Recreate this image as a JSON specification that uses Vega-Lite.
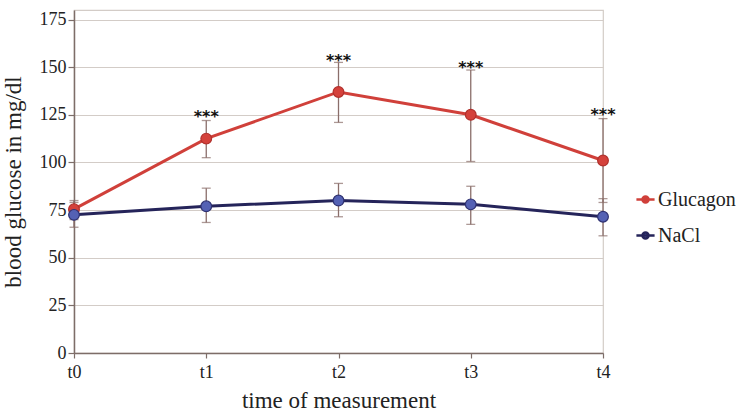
{
  "$schema": "https://vega.github.io/schema/vega-lite/v6.json",
  "width": 529,
  "height": 343,
  "autosize": {"type": "none"},
  "padding": {"left": 74, "top": 10, "right": 139, "bottom": 62},
  "background": "white",
  "config": {
    "font": "'Liberation Serif', 'Times New Roman', 'DejaVu Serif', serif",
    "view": {"stroke": "#d3ccc7", "strokeWidth": 1.2},
    "axis": {"labelFont": "'Liberation Serif', 'Times New Roman', 'DejaVu Serif', serif", "titleFont": "'Liberation Serif', 'Times New Roman', 'DejaVu Serif', serif", "labelColor": "#222", "titleColor": "#222", "titleFontWeight": "normal", "domainColor": "#7d6d68", "tickColor": "#7d6d68", "domainWidth": 1.5, "tickWidth": 1.2, "gridColor": "#d3ccc7", "gridWidth": 1.2},
    "legend": {"labelFont": "'Liberation Serif', 'Times New Roman', 'DejaVu Serif', serif"}
  },
  "datasets": {
    "series": [
      {"time": "t0", "group": "Glucagon", "mean": 75.5, "lo": 70, "hi": 80},
      {"time": "t1", "group": "Glucagon", "mean": 112.5, "lo": 102.5, "hi": 122},
      {"time": "t2", "group": "Glucagon", "mean": 137, "lo": 121, "hi": 152.5},
      {"time": "t3", "group": "Glucagon", "mean": 125, "lo": 100.5, "hi": 148.5},
      {"time": "t4", "group": "Glucagon", "mean": 101, "lo": 79, "hi": 123},
      {"time": "t0", "group": "NaCl", "mean": 72.5, "lo": 66, "hi": 79},
      {"time": "t1", "group": "NaCl", "mean": 77, "lo": 68.5, "hi": 86.5},
      {"time": "t2", "group": "NaCl", "mean": 80, "lo": 71.5, "hi": 89},
      {"time": "t3", "group": "NaCl", "mean": 78, "lo": 67.5, "hi": 87.5},
      {"time": "t4", "group": "NaCl", "mean": 71.5, "lo": 61.5, "hi": 81}
    ],
    "stars": [
      {"time": "t1", "y": 126.5, "label": "***"},
      {"time": "t2", "y": 156, "label": "***"},
      {"time": "t3", "y": 152, "label": "***"},
      {"time": "t4", "y": 127.5, "label": "***"}
    ]
  },
  "encoding": {
    "x": {"field": "time", "type": "ordinal", "scale": {"type": "point", "padding": 0},
      "axis": {"labelAngle": 0, "labelFontSize": 18, "titleFontSize": 23, "title": "time of measurement", "tickSize": 5, "labelPadding": 5, "titlePadding": 8, "grid": false}}
  },
  "layer": [
    {
      "data": {"name": "series"},
      "mark": {"type": "rule", "color": "#8a6e6a", "strokeWidth": 1.3},
      "encoding": {
        "y": {"field": "lo", "type": "quantitative", "scale": {"domain": [0, 175]},
          "axis": {"values": [0, 25, 50, 75, 100, 125, 150, 175], "labelFontSize": 18, "titleFontSize": 23, "title": "blood glucose in mg/dl", "tickSize": 6, "labelPadding": 2, "titlePadding": 14, "grid": true}},
        "y2": {"field": "hi"}
      }
    },
    {
      "data": {"name": "series"},
      "mark": {"type": "tick", "orient": "horizontal", "color": "#8a6e6a", "size": 9, "thickness": 1.3},
      "encoding": {"y": {"field": "lo", "type": "quantitative"}}
    },
    {
      "data": {"name": "series"},
      "mark": {"type": "tick", "orient": "horizontal", "color": "#8a6e6a", "size": 9, "thickness": 1.3},
      "encoding": {"y": {"field": "hi", "type": "quantitative"}}
    },
    {
      "data": {"name": "series"},
      "mark": {"type": "line", "strokeWidth": 3},
      "encoding": {
        "y": {"field": "mean", "type": "quantitative"},
        "color": {"field": "group", "type": "nominal",
          "scale": {"domain": ["Glucagon", "NaCl"], "range": ["#d0403a", "#25245a"]},
          "legend": {"title": null, "orient": "none", "legendX": 561, "legendY": 179, "labelFontSize": 20, "labelColor": "#222", "rowPadding": 15, "symbolSize": 330, "symbolStrokeWidth": 2.5, "labelOffset": 2,
            "symbolType": "M-1,0L1,0M-0.33,0a0.33,0.33 0 1,0 0.66,0a0.33,0.33 0 1,0 -0.66,0",
            "encode": {"symbols": {"update": {"fill": {"signal": "datum.value === 'NaCl' ? '#4f5cb0' : '#d0403a'"}, "opacity": {"value": 1}}}}}
        }
      }
    },
    {
      "data": {"name": "series"},
      "mark": {"type": "point", "shape": "circle", "filled": true, "size": 115, "strokeWidth": 1.2, "opacity": 1},
      "encoding": {
        "y": {"field": "mean", "type": "quantitative"},
        "fill": {"field": "group", "type": "nominal", "scale": {"domain": ["Glucagon", "NaCl"], "range": ["#d4413b", "#5461b4"]}, "legend": null},
        "stroke": {"field": "group", "type": "nominal", "scale": {"domain": ["Glucagon", "NaCl"], "range": ["#b0302c", "#2f3272"]}, "legend": null}
      }
    },
    {
      "data": {"name": "stars"},
      "mark": {"type": "text", "font": "DejaVu Sans", "fontWeight": "bold", "fontSize": 16, "baseline": "middle", "dy": 5, "color": "#111"},
      "encoding": {
        "y": {"field": "y", "type": "quantitative"},
        "text": {"field": "label"}
      }
    }
  ]
}
